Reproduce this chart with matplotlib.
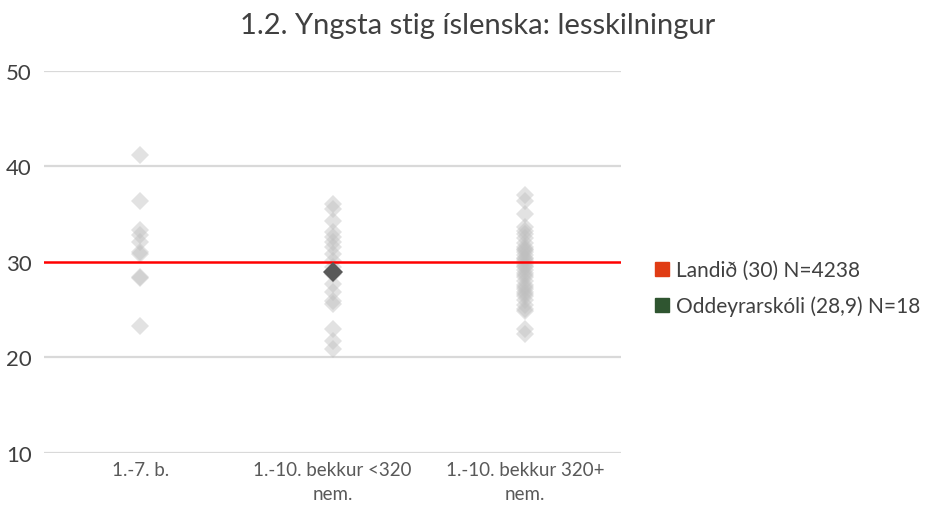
import numpy as np
import matplotlib.pyplot as plt
from matplotlib.lines import Line2D

plt.rcParams['font.family'] = ['Lato', 'DejaVu Sans']

title = "1.2. Yngsta stig íslenska: lesskilningur"
categories = ["1.-7. b.", "1.-10. bekkur <320\nnem.", "1.-10. bekkur 320+\nnem."]

# skolar i hverjum flokki (gildi lesin af mynd)
vals_small = [41.2, 36.4, 33.3, 32.8, 32.1, 31.0, 30.8, 28.4, 28.3, 23.3]
vals_mid = [36.1, 35.5, 34.3, 33.1, 32.6, 32.1, 31.6, 30.8, 30.1, 29.5,
            28.7, 27.7, 26.9, 25.9, 25.6, 23.0, 21.7, 20.9]
vals_large = [37.0, 36.4, 35.0, 33.7, 33.2, 32.9, 32.5, 32.0, 31.6, 31.3,
              31.0, 30.7, 30.4, 30.1, 29.8, 29.5, 29.2, 28.8, 28.4, 28.0,
              27.6, 27.2, 26.8, 26.4, 26.0, 25.5, 25.1, 24.9, 23.0, 22.4,
              31.2, 30.3, 29.6, 28.6, 27.4, 26.6]

landid = 30.0
skoli = 28.9
skoli_cat = 1

legend_labels = ["Landið (30) N=4238", "Oddeyrarskóli (28,9) N=18"]

fig = plt.figure(figsize=(9.44, 5.10), dpi=100)
ax = fig.add_axes([0.0466, 0.110, 0.6114, 0.749])

ax.set_xlim(0, 3)
ax.set_ylim(10, 50)

for y in [10, 20, 40, 50]:
	ax.axhline(y, color='#d9d9d9', lw=1.6, zorder=0)

xpos = np.arange(3) + 0.5
for i, vals in enumerate([vals_small, vals_mid, vals_large]):
	ax.plot([xpos[i]] * len(vals), vals, 'D', color='#bfbfbf', alpha=0.45,
	        markersize=9.5, markeredgewidth=0, zorder=2)

ax.axhline(landid, color='#ff0000', lw=1.8, zorder=3)
ax.plot([xpos[skoli_cat]], [skoli], 'D', color='#595959', markersize=10,
        markeredgewidth=0, zorder=4)

ax.set_xticks(xpos)
ax.set_xticklabels(categories, fontsize=13.5, color='#595959', linespacing=1.45)
ax.set_yticks([10, 20, 30, 40, 50])
ax.tick_params(axis='y', labelsize=16, labelcolor='#404040', length=0, pad=9)
ax.tick_params(axis='x', length=0, pad=6)
for s in ax.spines.values():
	s.set_visible(False)

fig.suptitle(title, fontsize=21, color='#404040', x=0.506, y=0.975)

handles = [Line2D([], [], marker='s', ls='none', color='#e03c14', markersize=10),
           Line2D([], [], marker='s', ls='none', color='#2f5530', markersize=10)]
fig.legend(handles, legend_labels, loc='upper left', bbox_to_anchor=(0.674, 0.525),
           frameon=False, fontsize=15, labelcolor='#404040', handlelength=0.7,
           handletextpad=0.3, labelspacing=0.75)

plt.savefig("out.png")
